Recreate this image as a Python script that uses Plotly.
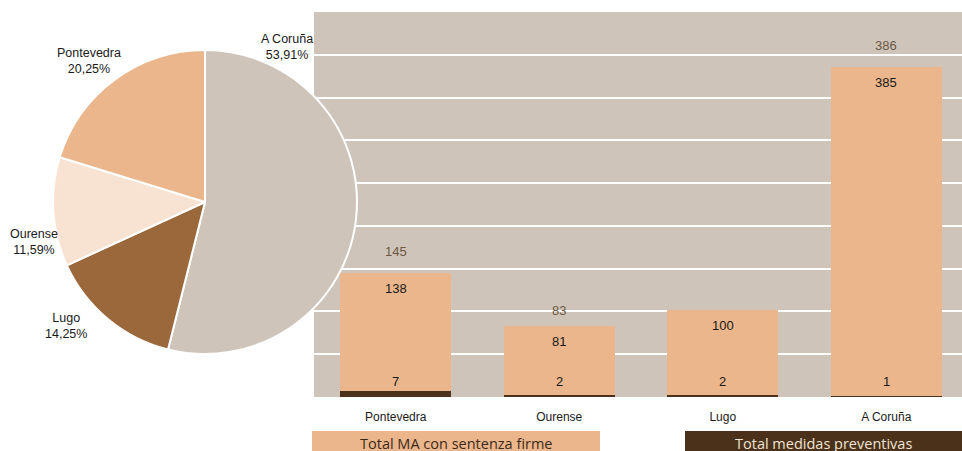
import plotly.graph_objects as go

# ---- data ----
categories = ["Pontevedra", "Ourense", "Lugo", "A Coruña"]
ma_sentenza = [138, 81, 100, 385]          # Total MA con sentenza firme
medidas_prev = [7, 2, 2, 1]                # Total medidas preventivas
totals_shown = [145, 83, None, 386]        # totals printed above bars

pie_labels = ["A Coruña", "Lugo", "Ourense", "Pontevedra"]
pie_values = [53.91, 14.25, 11.59, 20.25]

series_names = ["Total MA con sentenza firme", "Total medidas preventivas"]

# ---- styles ----
BG = "#cfc4b9"
ORANGE = "#ebb68b"
DARK = "#4b3119"
pie_colors = [BG, "#9a683b", "#f8e3d2", ORANGE]
FONT = "Liberation Sans, Arial, sans-serif"
total_yshift = [12, 6, 12, 12]

W, H = 962, 451


def fx(px):
    return px / W


def fy(py):
    return 1 - py / H


fig = go.Figure()

fig.add_trace(go.Bar(
    x=categories, y=medidas_prev, name=series_names[1],
    marker=dict(color=DARK, line=dict(width=0)), width=0.68,
    hoverinfo="x+y", showlegend=False,
))
fig.add_trace(go.Bar(
    x=categories, y=ma_sentenza, name=series_names[0],
    marker=dict(color=ORANGE, line=dict(width=0)), width=0.68,
    hoverinfo="x+y", showlegend=False,
))

fig.add_trace(go.Pie(
    labels=pie_labels, values=pie_values, sort=False, direction="clockwise",
    rotation=0, textinfo="none", showlegend=False,
    marker=dict(colors=pie_colors, line=dict(color="white", width=2)),
    domain=dict(x=[fx(53), fx(357)], y=[fy(354), fy(50)]),
))

annotations = []
# bar labels
for i, (c, m, d, t) in enumerate(zip(categories, ma_sentenza, medidas_prev, totals_shown)):
    annotations.append(dict(x=c, y=d + m, xref="x", yref="y", text=str(m),
                            showarrow=False, yanchor="top", yshift=-6,
                            font=dict(family=FONT, size=13, color="#1a1a1a")))
    annotations.append(dict(x=c, y=0, xref="x", yref="y", text=str(d),
                            showarrow=False, yanchor="bottom", yshift=6,
                            font=dict(family=FONT, size=13, color="#1a1a1a")))
    if t is not None:
        annotations.append(dict(x=c, y=t, xref="x", yref="y", text=str(t),
                                showarrow=False, yanchor="bottom", yshift=total_yshift[i],
                                font=dict(family=FONT, size=13, color="#6b5843")))

# pie labels
pie_label_pos = {"A Coruña": (287, 47), "Lugo": (66, 326),
                 "Ourense": (34, 242), "Pontevedra": (89, 61)}
for lab, val in zip(pie_labels, pie_values):
    px, py = pie_label_pos[lab]
    pct = f"{val:.2f}".replace(".", ",") + "%"
    annotations.append(dict(x=fx(px), y=fy(py), xref="paper", yref="paper",
                            text=f"{lab}<br>{pct}", showarrow=False,
                            xanchor="center", yanchor="middle", align="center",
                            font=dict(family=FONT, size=12.5, color="#1a1a1a")))

# legend boxes
shapes = [
    dict(type="rect", xref="paper", yref="paper", x0=fx(312), x1=fx(600),
         y0=0, y1=fy(431), fillcolor=ORANGE, line=dict(width=0), layer="above"),
    dict(type="rect", xref="paper", yref="paper", x0=fx(685), x1=1,
         y0=0, y1=fy(431), fillcolor=DARK, line=dict(width=0), layer="above"),
]
annotations.append(dict(x=fx(456), y=fy(443), xref="paper", yref="paper",
                        text=series_names[0], showarrow=False,
                        xanchor="center", yanchor="middle",
                        font=dict(family="Open Sans, sans-serif", size=14.5, color="#3b2a1a")))
annotations.append(dict(x=fx(823), y=fy(443), xref="paper", yref="paper",
                        text=series_names[1], showarrow=False,
                        xanchor="center", yanchor="middle",
                        font=dict(family="Open Sans, sans-serif", size=14.5, color="#efe4d6")))

fig.update_layout(
    width=W, height=H, margin=dict(l=0, r=0, t=0, b=0),
    paper_bgcolor="white", plot_bgcolor=BG,
    barmode="stack",
    xaxis=dict(domain=[fx(314), 1], range=[-0.5, 3.463], showgrid=False,
               zeroline=False, showline=False, ticks="", ticklabelstandoff=11,
               tickfont=dict(family="Liberation Sans Narrow, Liberation Sans, Arial, sans-serif",
                             size=12, color="#1a1a1a")),
    yaxis=dict(domain=[fy(397), fy(12)], range=[0, 450], dtick=50,
               showgrid=True, gridcolor="white", gridwidth=2,
               zeroline=False, showticklabels=False, showline=False),
    shapes=shapes, annotations=annotations,
    font=dict(family=FONT),
)

fig.write_html(
    "out.html",
    config={"displayModeBar": False},
    post_script="document.body.style.margin='0';document.body.style.overflow='hidden';",
)
